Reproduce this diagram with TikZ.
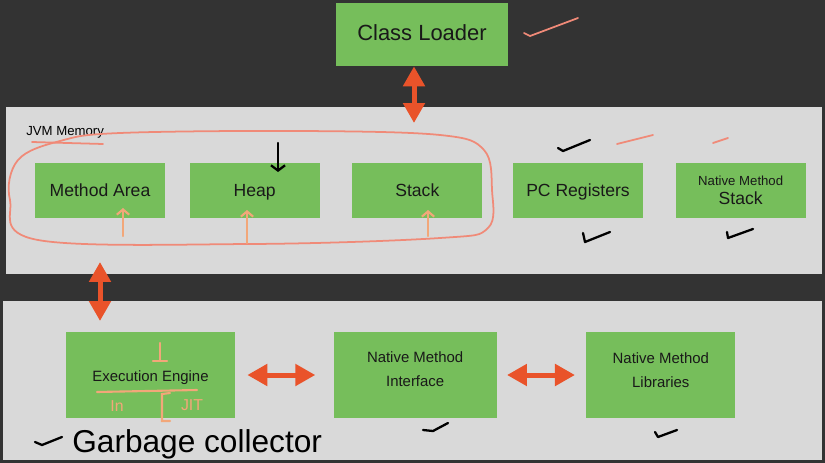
\documentclass[tikz,border=0pt]{standalone}
\usepackage{fontspec}
\setmainfont{Liberation Sans}
\usepackage{xcolor}
\usepackage{tikz}
\usetikzlibrary{arrows.meta, positioning, calc}
\definecolor{bgcolor}{HTML}{333333}
\definecolor{panelcolor}{HTML}{D9D9D9}
\definecolor{boxcolor}{HTML}{76BE5B}
\definecolor{arrcolor}{HTML}{E9532A}
\definecolor{inkcolor}{HTML}{F08A78}
\definecolor{peachcolor}{HTML}{F2A779}

\begin{document}
\begin{tikzpicture}[
  x=0.02cm, y=-0.02cm,
  panel/.style={fill=panelcolor, anchor=north west, inner sep=0},
  box/.style={fill=boxcolor, minimum width=2.6cm, minimum height=1.1cm,
              align=center, inner sep=0, text=black!90,
              font=\fontsize{10}{12}\selectfont},
  oneline/.style={text height=0.9em, text depth=0.18em},
  bigbox/.style={box, minimum height=1.72cm,
                 font=\fontsize{8.5}{13.6}\selectfont},
  dblarrow/.style={{Triangle[width=0.42cm, length=0.4cm]}-{Triangle[width=0.42cm, length=0.4cm]},
                   line width=0.1cm, draw=arrcolor},
  ink/.style={draw=inkcolor, line width=1pt, line cap=round, line join=round},
  peach/.style={draw=peachcolor, line width=1.2pt, line cap=round},
  pen/.style={draw=black, line width=1.3pt, line cap=round, line join=round},
]

%% background and panels
\fill[bgcolor] (0,0) rectangle (825,463);
\useasboundingbox (0,0) rectangle (825,463);
\node[panel, minimum width=16.32cm, minimum height=3.34cm] (memory) at (6,107) {};
\node[panel, minimum width=16.38cm, minimum height=3.18cm] (engine) at (3,301) {};
\node[anchor=west, inner sep=0, font=\fontsize{7.5}{9}\selectfont] (memlabel) at (26,132) {JVM Memory};

%% Class loader
\node[box, oneline, minimum width=3.44cm, minimum height=1.26cm,
      font=\fontsize{12.5}{15}\selectfont] (loader) at (422,34.5) {Class Loader};

%% Memory areas
\node[box, oneline] (method) at (100,190.5) {Method Area};
\node[box, oneline, right=0.48cm of method] (heap) {Heap};
\node[box, oneline, right=0.64cm of heap] (stack) {Stack};
\node[box, oneline, right=0.6cm of stack] (pcreg) {PC Registers};
\node[box, right=0.64cm of pcreg] (nmstack)
  {{\fontsize{7.5}{9}\selectfont Native Method}\\[-1pt]Stack};

%% Execution side
\node[bigbox, oneline, minimum width=3.38cm] (exec) at (150.5,375) {Execution Engine};
\node[bigbox, minimum width=3.26cm, right=1.96cm of exec] (nminterface)
  {Native Method\\Interface\\[-6.8pt]};
\node[bigbox, minimum width=2.98cm, right=1.78cm of nminterface] (nmlib)
  {Native Method\\Libraries\\[-7.6pt]};

%% Arrows
\coordinate (loaderend) at (414,123);
\coordinate (memtip) at (100,262);
\coordinate (exectip) at (100,321);
\draw[dblarrow] (loader.south -| loaderend) -- (loaderend);
\draw[dblarrow] (memtip) -- (exectip);
\draw[dblarrow, shorten <=0.24cm, shorten >=0.36cm] (exec) -- (nminterface);
\draw[dblarrow, shorten <=0.2cm, shorten >=0.22cm] (nminterface) -- (nmlib);

%% Hand notes
\draw[ink] plot[smooth cycle, tension=0.6] coordinates {(120,133) (300,131) (440,135)
  (484,150) (492,190) (488,228) (440,238) (250,244) (38,240) (10,200) (18,160) (60,141)};
\draw[ink] (32,142) -- (103,144);
\draw[ink] (524,33) -- (530,36) -- (578,18);
\draw[ink] (617,144) -- (653,135);
\draw[ink] (713,143) -- (728,138);
\draw[peach, -{Straight Barb[length=3pt, width=7pt]}] (123,236) -- (123,208);
\draw[peach, -{Straight Barb[length=3pt, width=7pt]}] (247,243) -- (247,210);
\draw[peach, -{Straight Barb[length=3pt, width=7pt]}] (428,236) -- (428,210);
\draw[pen, -{Straight Barb[length=3pt, width=8pt]}] (278,143) -- (278,172);
\draw[pen] (558,148) -- (563,151) -- (590,140);
\draw[pen] (583,233) -- (585,242) -- (610,232);
\draw[pen] (727,232) -- (728,238) -- (753,229);
\draw[pen] (423,430) -- (433,431) -- (448,423);
\draw[pen] (655,432) -- (658,437) -- (677,430);
\draw[pen] (35,442) -- (42,445) -- (62,437);

%% notes in the engine box
\draw[peach] (160,343) -- (160,360) (153,361) -- (167,361);
\draw[peach] (97,392) -- (197,390);
\draw[peach] (170,393) -- (162,394) -- (162,421) -- (170,421);
\node[text=peachcolor, font=\fontsize{9}{10}\selectfont, inner sep=0] (interp) at (117,406) {In};
\node[text=peachcolor, font=\fontsize{9}{10}\selectfont, inner sep=0] (jit) at (192,405) {JIT};
\node[anchor=base west, inner sep=0, font=\fontsize{18}{20}\selectfont] (gc) at (72,452) {Garbage collector};

\end{tikzpicture}
\end{document}
